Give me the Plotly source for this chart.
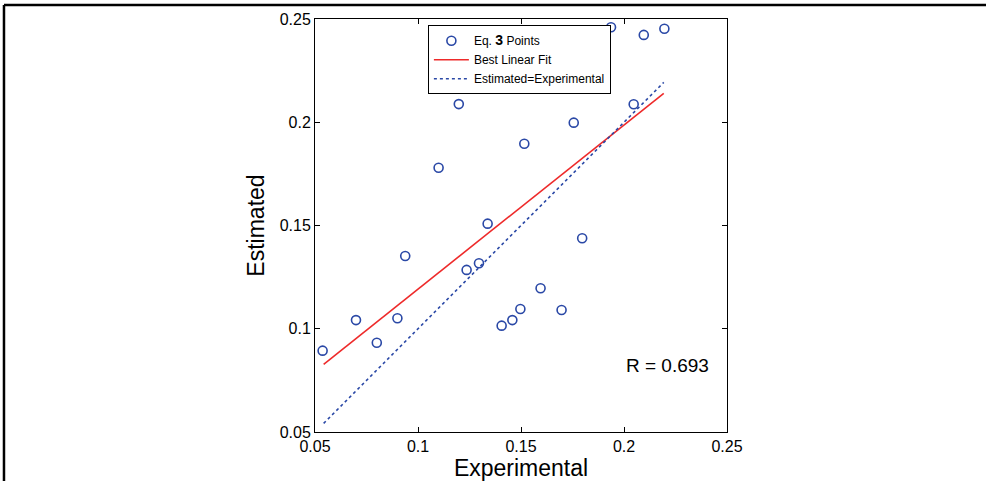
import plotly.graph_objects as go

# Data
exp_x = [0.0537, 0.0699, 0.0800, 0.0900, 0.0938, 0.1100, 0.1198, 0.1236, 0.1296, 0.1338,
         0.1406, 0.1458, 0.1497, 0.1516, 0.1595, 0.1697, 0.1756, 0.1797, 0.1937, 0.2047,
         0.2096, 0.2196]
est_y = [0.0894, 0.1042, 0.0932, 0.1051, 0.1352, 0.1780, 0.2088, 0.1285, 0.1317, 0.1509,
         0.1015, 0.1042, 0.1096, 0.1896, 0.1196, 0.1091, 0.1998, 0.1438, 0.2460, 0.2087,
         0.2423, 0.2453]
fit_x = [0.0542, 0.2193]
fit_y = [0.0828, 0.2140]
ident_x = [0.0542, 0.2193]
ident_y = [0.0542, 0.2193]
x_ticks = [0.05, 0.1, 0.15, 0.2, 0.25]
x_tick_labels = ["0.05", "0.1", "0.15", "0.2", "0.25"]
y_ticks = [0.05, 0.1, 0.15, 0.2, 0.25]
y_tick_labels = ["0.05", "0.1", "0.15", "0.2", "0.25"]
r_text = "R = 0.693"

FONT = "Liberation Sans, Arial, sans-serif"
BLUE = "#2a48a6"
RED = "#ee2a2a"

fig = go.Figure()
fig.add_trace(go.Scatter(
    x=exp_x, y=est_y, mode="markers",
    name="Eq. <b><span style='font-size:14px'>3</span></b> Points",
    marker=dict(symbol="circle-open", size=9, color=BLUE, line=dict(width=1.6, color=BLUE)),
))
fig.add_trace(go.Scatter(
    x=fit_x, y=fit_y, mode="lines", name="Best Linear Fit",
    line=dict(color=RED, width=1.6),
))
fig.add_trace(go.Scatter(
    x=ident_x, y=ident_y, mode="lines", name="Estimated=Experimental",
    line=dict(color=BLUE, width=1.6, dash="dot"),
))

axis_common = dict(
    showgrid=False, zeroline=False, showline=True, linecolor="black", linewidth=1,
    mirror="ticks", ticks="inside", ticklen=5, tickcolor="black", automargin=False,
    tickfont=dict(family=FONT, size=16, color="black"),
)
fig.update_xaxes(range=[0.05, 0.25], tickvals=x_ticks, ticktext=x_tick_labels,
                 title=dict(text="Experimental", font=dict(family=FONT, size=23, color="black"), standoff=5),
                 **axis_common)
fig.update_yaxes(range=[0.05, 0.25], tickvals=y_ticks, ticktext=y_tick_labels,
                 title=dict(text="Estimated", font=dict(family=FONT, size=23, color="black"), standoff=8),
                 **axis_common)

fig.add_annotation(x=0.221, y=0.082, xref="x", yref="y", text=r_text, showarrow=False,
                   font=dict(family=FONT, size=19, color="black"))

# outer frame (left and top)
fig.add_shape(type="line", xref="paper", yref="paper", x0=-0.7549, x1=-0.7549, y0=1.0339, y1=-0.2,
              line=dict(color="black", width=2.5))
fig.add_shape(type="line", xref="paper", yref="paper", x0=-0.7549, x1=1.7, y0=1.0339, y1=1.0339,
              line=dict(color="black", width=2.5))

fig.update_layout(
    width=986, height=481,
    margin=dict(l=315, r=259, t=19, b=49),
    paper_bgcolor="white", plot_bgcolor="white",
    showlegend=True,
    legend=dict(x=0.274, y=0.985, xanchor="left", yanchor="top",
                bordercolor="black", borderwidth=1, bgcolor="white",
                font=dict(family=FONT, size=12, color="black"),
                tracegroupgap=0, itemwidth=35),
)

fig.write_html("out.html", config={"displayModeBar": False},
               post_script="document.body.style.margin='0px';")
